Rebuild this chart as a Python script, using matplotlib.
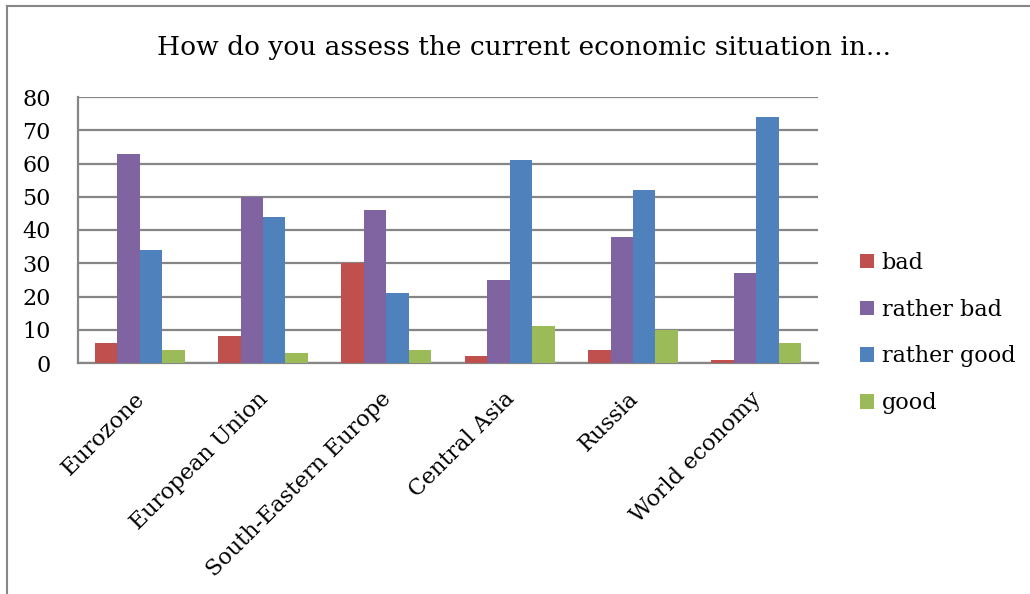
import matplotlib
matplotlib.use("Agg")
import matplotlib.pyplot as plt
import matplotlib.transforms as mtransforms
import numpy as np
from matplotlib.lines import Line2D

categories = ["Eurozone", "European Union", "South-Eastern Europe", "Central Asia", "Russia", "World economy"]
series_names = ["bad", "rather bad", "rather good", "good"]
bad = [6, 8, 30, 2, 4, 1]
rather_bad = [63, 50, 46, 25, 38, 27]
rather_good = [34, 44, 21, 61, 52, 74]
good = [4, 3, 4, 11, 10, 6]
yticks = [0, 10, 20, 30, 40, 50, 60, 70, 80]

colors = ["#C0504D", "#8064A2", "#4F81BD", "#9BBB59"]
font = "DejaVu Serif"
plt.rcParams["font.family"] = font

W, H = 1030, 594
fig = plt.figure(figsize=(W / 100, H / 100), dpi=100)
ax = fig.add_axes([78 / W, 1 - 363 / H, (818 - 78) / W, (363 - 97) / H])

x = np.arange(len(categories))
bw = 0.182
for i, (name, vals) in enumerate(zip(series_names, [bad, rather_bad, rather_good, good])):
    ax.bar(x + (i - 1.5) * bw, vals, bw, color=colors[i], label=name, zorder=3)

ax.set_xlim(-0.5, len(categories) - 0.5)
ax.set_ylim(0, 80)
ax.set_yticks(yticks)
ax.yaxis.grid(True, color="#868686", linewidth=1.6, zorder=0)
ax.set_axisbelow(True)
for s in ["top", "right"]:
    ax.spines[s].set_visible(False)
for s in ["left", "bottom"]:
    ax.spines[s].set_color("#868686")
    ax.spines[s].set_linewidth(1.6)
ax.tick_params(axis="both", length=0)
ax.tick_params(axis="y", pad=19.5, labelsize=16)
ax.set_xticks(x)
ax.set_xticklabels(categories, rotation=45, ha="right", rotation_mode="anchor", fontsize=16)
ax.tick_params(axis="x", pad=18)
offset = mtransforms.ScaledTranslation(-6 / 100, 0, fig.dpi_scale_trans)
for lbl in ax.get_xticklabels():
    lbl.set_transform(lbl.get_transform() + offset)

fig.text(524 / W, 1 - 47 / H, "How do you assess the current economic situation in...",
         ha="center", va="center", fontsize=19)

leg = ax.legend(loc="center left", bbox_to_anchor=(840 / W, 1 - 333 / H), bbox_transform=fig.transFigure,
                frameon=False, fontsize=16, handlelength=0.62, handleheight=0.62, handletextpad=0.35,
                labelspacing=1.12)

fig.add_artist(Line2D([7 / W, 1], [1 - 6 / H, 1 - 6 / H], color="#868686", linewidth=1.5, transform=fig.transFigure))
fig.add_artist(Line2D([7 / W, 7 / W], [0, 1 - 6 / H], color="#868686", linewidth=1.5, transform=fig.transFigure))

fig.savefig("out.png", dpi=100)
